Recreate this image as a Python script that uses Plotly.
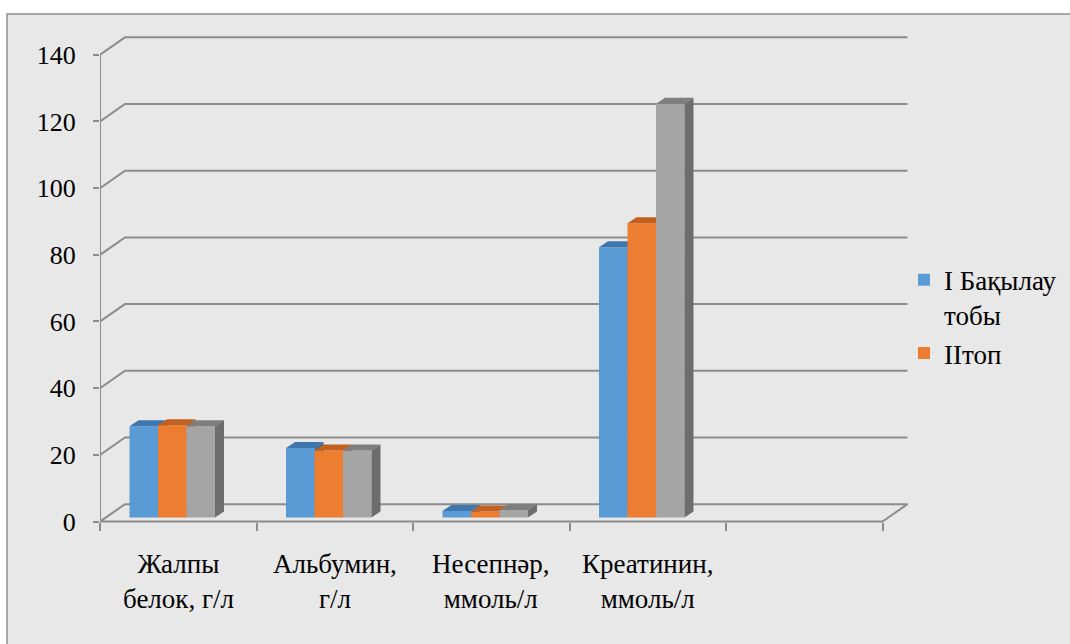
import plotly.graph_objects as go

# ---- data -------------------------------------------------------------
categories = ["Жалпы<br>белок, г/л", "Альбумин,<br>г/л",
              "Несепнәр,<br>ммоль/л", "Креатинин,<br>ммоль/л"]
n_slots = 5  # the category axis keeps one empty slot on the right

series_names = ["I Бақылау<br>тобы", "IIтоп", "III топ"]
group_1 = [27.4, 20.9, 2.0, 81.1]
group_2 = [27.7, 20.1, 1.8, 88.3]
group_3 = [27.4, 20.1, 2.3, 124.1]

y_ticks = [0, 20, 40, 60, 80, 100, 120, 140]

# ---- styling ----------------------------------------------------------
front_colors = ["#5B9BD5", "#ED7D31", "#A5A5A5"]
top_colors = ["#3F76AE", "#C2611F", "#7E7E7E"]
side_colors = ["#3A6A9B", "#AE5519", "#6D6D6D"]
show_in_legend = [True, True, False]

GRID = "#8C8C8C"
FONT = "Liberation Serif"
FS_TICK = 26
FS_TEXT = 27

W, H = 1070, 644
# front plane of the pseudo-3D box, in pixels
AX_LEFT_PX = 100      # pixel of the left category boundary
CAT_PX = 156.5        # width of one category slot
ZERO_PX = 524         # pixel row of value 0 on the front plane
UNIT_PX = 3.35        # pixels per value unit
PLOT_L, PLOT_R, PLOT_T, PLOT_B = 100, 916, 26, 536


def px_to_x(px):
    return -0.5 + (px - AX_LEFT_PX) / CAT_PX


def px_to_y(py):
    return (ZERO_PX - py) / UNIT_PX


# depth offsets expressed in axis units
WALL_DX = 25 / CAT_PX
WALL_DY = 17.5 / UNIT_PX
BAR_W = 28.5 / CAT_PX
BAR_DX = 9 / CAT_PX
BAR_DY = 6 / UNIT_PX
BAR_BASE = 4 / UNIT_PX
GROUP_SHIFT = -6 / CAT_PX

fig = go.Figure()

# ---- back wall gridlines, floor and the value axis --------------------
gx, gy = [], []
x_left = -0.5
x_right = n_slots - 0.5
for v in y_ticks:
    gx += [x_left, x_left + WALL_DX, x_right + WALL_DX, None]
    gy += [v, v + WALL_DY, v + WALL_DY, None]
gx += [x_left, x_right, x_right + WALL_DX, None]
gy += [0, 0, WALL_DY, None]
gx += [x_left, x_left, None]
gy += [0, y_ticks[-1], None]
fig.add_trace(go.Scatter(x=gx, y=gy, mode="lines",
                         line=dict(color=GRID, width=2),
                         hoverinfo="skip", showlegend=False, zorder=0))

# ---- columns: front face as bars, top and side faces as fills ---------
all_series = [group_1, group_2, group_3]
for j, vals in enumerate(all_series):
    xc = [i + GROUP_SHIFT + (j - 1) * BAR_W for i in range(len(vals))]
    fig.add_trace(go.Bar(
        x=xc, y=vals, base=BAR_BASE, width=BAR_W,
        name=series_names[j], showlegend=show_in_legend[j],
        marker=dict(color=front_colors[j], line=dict(width=0)),
        hoverinfo="skip", zorder=2 * j + 1,
    ))
    tx, ty, sx, sy = [], [], [], []
    for c, v in zip(xc, vals):
        x0, x1 = c - BAR_W / 2, c + BAR_W / 2
        t = BAR_BASE + v
        tx += [x0, x1, x1 + BAR_DX, x0 + BAR_DX, x0, None]
        ty += [t, t, t + BAR_DY, t + BAR_DY, t, None]
        sx += [x1, x1 + BAR_DX, x1 + BAR_DX, x1, x1, None]
        sy += [BAR_BASE, BAR_BASE + BAR_DY, t + BAR_DY, t, BAR_BASE, None]
    fig.add_trace(go.Scatter(x=tx, y=ty, mode="lines", fill="toself",
                             fillcolor=top_colors[j], line=dict(width=0),
                             hoverinfo="skip", showlegend=False,
                             zorder=2 * j + 2))
    fig.add_trace(go.Scatter(x=sx, y=sy, mode="lines", fill="toself",
                             fillcolor=side_colors[j], line=dict(width=0),
                             hoverinfo="skip", showlegend=False,
                             zorder=2 * j + 2))

# ---- category labels ---------------------------------------------------
for i, lab in enumerate(categories):
    fig.add_annotation(x=i, xref="x", y=(H - 584) / H, yref="paper",
                       text=lab, showarrow=False, align="center",
                       xanchor="center", yanchor="middle",
                       font=dict(family=FONT, size=FS_TEXT, color="black"))

# ---- chart frame -------------------------------------------------------
fig.add_shape(type="rect", xref="paper", yref="paper",
              x0=7 / W, x1=1.02, y0=-0.02, y1=(H - 14) / H,
              fillcolor="#E8E8E8", line=dict(color="#8E8E8E", width=1.5),
              layer="below")

fig.update_layout(
    width=W, height=H, autosize=False,
    margin=dict(l=0, r=0, t=0, b=0),
    paper_bgcolor="white", plot_bgcolor="rgba(0,0,0,0)",
    barmode="overlay", hovermode=False,
    font=dict(family=FONT, size=FS_TICK, color="black"),
    xaxis=dict(
        domain=[PLOT_L / W, PLOT_R / W],
        range=[px_to_x(PLOT_L), px_to_x(PLOT_R)],
        anchor="free", position=(H - ZERO_PX) / H,
        tickvals=[k - 0.5 for k in range(n_slots + 1)],
        showticklabels=False, ticks="outside", ticklen=8, tickwidth=2,
        tickcolor=GRID, showgrid=False, zeroline=False, showline=False,
        fixedrange=True,
    ),
    yaxis=dict(
        domain=[(H - PLOT_B) / H, (H - PLOT_T) / H],
        range=[px_to_y(PLOT_B), px_to_y(PLOT_T)],
        tickvals=y_ticks, ticks="outside", ticklen=6, tickwidth=2,
        tickcolor=GRID, ticklabelstandoff=12,
        tickfont=dict(family=FONT, size=FS_TICK, color="black"),
        showgrid=False, zeroline=False, showline=False, fixedrange=True,
    ),
    legend=dict(
        x=904 / W, y=(H - 257) / H, xanchor="left", yanchor="top",
        valign="top", bgcolor="rgba(0,0,0,0)", borderwidth=0,
        font=dict(family=FONT, size=FS_TEXT, color="black"),
        itemclick=False, itemdoubleclick=False,
    ),
)

fig.write_html("out.html")
